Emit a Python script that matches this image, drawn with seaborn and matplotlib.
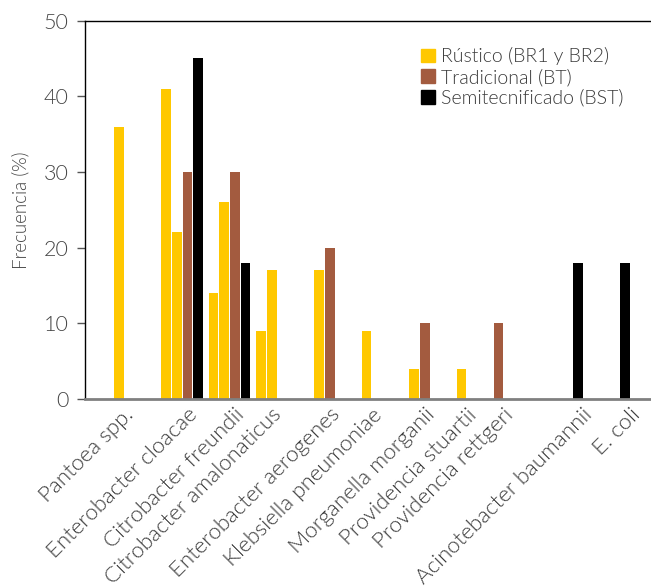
import pandas as pd
import matplotlib.pyplot as plt
import seaborn as sns
from matplotlib.patches import Patch

# DATOS
especies = ['Pantoea spp.', 'Enterobacter cloacae', 'Citrobacter freundii',
            'Citrobacter amalonaticus', 'Enterobacter aerogenes',
            'Klebsiella pneumoniae', 'Morganella morganii',
            'Providencia stuartii', 'Providencia rettgeri',
            'Acinotebacter baumannii', 'E. coli']
rustico_br1 = [36, 41, 14, 9, 0, 0, 0, 0, 0, 0, 0]
rustico_br2 = [0, 22, 26, 17, 17, 9, 4, 4, 0, 0, 0]
tradicional_bt = [0, 30, 30, 0, 20, 0, 10, 0, 10, 0, 0]
semitec_bst = [0, 45, 18, 0, 0, 0, 0, 0, 0, 18, 18]

columnas = ['BR1', 'BR2', 'BT', 'BST']
leyenda = ['Rústico (BR1 y BR2)', 'Tradicional (BT)', 'Semitecnificado (BST)']
amarillo, cafe, negro = '#FFC800', '#A35B3F', '#000000'

df = pd.DataFrame({
    'Especie': especies * 4,
    'Columna': [c for c in columnas for _ in especies],
    'Frecuencia': rustico_br1 + rustico_br2 + tradicional_bt + semitec_bst,
})

sns.set_style('white')
plt.rcParams['font.family'] = ['Lato', 'DejaVu Sans']
plt.rcParams['font.weight'] = 300  # Lato Light
plt.rcParams['axes.labelweight'] = 300

fig = plt.figure(figsize=(6.51, 5.88), dpi=100)
ax = fig.add_axes([0.131, 0.3215, 0.869, 0.6435])

sns.barplot(data=df, x='Especie', y='Frecuencia', hue='Columna',
            palette=[amarillo, amarillo, cafe, negro], saturation=1,
            width=0.894, gap=0.09, linewidth=0,
            errorbar=None, legend=False, ax=ax)

# en el original P. rettgeri (BT) ocupa la primera columna del grupo
i = especies.index('Providencia rettgeri')
ax.containers[2][i].set_x(ax.containers[0][i].get_x())

# las etiquetas van centradas bajo las barras que tienen valor
centros = []
for j in range(len(especies)):
    xs = [c[j].get_x() + c[j].get_width() / 2 for c in ax.containers
          if c[j].get_height() > 0]
    centros.append(sum(xs) / len(xs) + 0.1)

ax.set_xlim(-1.04, 10.88)
ax.set_ylim(0, 50)
ax.set_yticks(range(0, 51, 10))
ax.set_xlabel('')
ax.set_ylabel('Frecuencia (%)', fontsize=13.5, color='#444444', labelpad=10)

ax.tick_params(axis='y', direction='out', length=6, width=1, color='#555555',
               labelsize=15.5, labelcolor='#444444', pad=6, left=True)
ax.tick_params(axis='x', length=0, pad=4)
ax.set_xticks(centros)
ax.set_xticklabels(especies, rotation=45, ha='right', va='top',
                   rotation_mode='anchor', fontsize=16, color='#3a3a3a')

ax.spines['right'].set_visible(False)
ax.spines['top'].set_color('black')
ax.spines['top'].set_linewidth(1)
ax.spines['left'].set_color('black')
ax.spines['left'].set_linewidth(1)
ax.spines['bottom'].set_color('#808080')
ax.spines['bottom'].set_linewidth(2)

handles = [Patch(color=c) for c in (amarillo, cafe, negro)]
ax.legend(handles, leyenda, loc='upper left', bbox_to_anchor=(0.58, 0.95),
          frameon=False, fontsize=14, handlelength=0.7, handleheight=0.7,
          handletextpad=0.3, labelspacing=0.15, borderaxespad=0,
          labelcolor='#3a3a3a')

fig.savefig('out.png', dpi=100)
